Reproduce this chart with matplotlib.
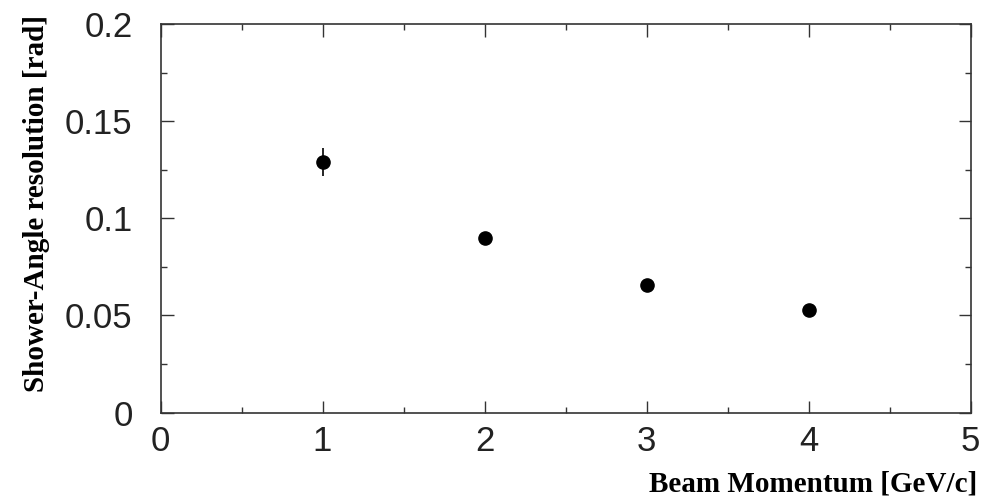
import matplotlib.pyplot as plt
from matplotlib.ticker import MultipleLocator

# beam momentum points and measured shower-angle resolution
momentum = [1, 2, 3, 4]
resolution = [0.1289, 0.0900, 0.0655, 0.0529]
resolution_err = [0.0071, 0.0025, 0.0020, 0.0015]

xtick_vals = [0, 1, 2, 3, 4, 5]
xtick_labels = ['0', '1', '2', '3', '4', '5']
ytick_vals = [0, 0.05, 0.1, 0.15, 0.2]
ytick_labels = ['0', '0.05', '0.1', '0.15', '0.2']

fig = plt.figure(figsize=(9.97, 4.99), dpi=100)
ax = fig.add_axes([0.161, 0.173, 0.8126, 0.779])

ax.errorbar(momentum, resolution, yerr=resolution_err, fmt='o', color='black',
            markersize=9.5, elinewidth=1.2, capsize=0)

ax.set_xlim(0, 5)
ax.set_ylim(0, 0.2)
ax.xaxis.set_minor_locator(MultipleLocator(0.5))
ax.yaxis.set_minor_locator(MultipleLocator(0.025))
ax.set_xticks(xtick_vals)
ax.set_xticklabels(xtick_labels)
ax.set_yticks(ytick_vals)
ax.set_yticklabels(ytick_labels)

ax.tick_params(which='both', direction='in', top=True, right=True, width=1, color='#333333')
ax.tick_params(which='major', length=9)
ax.tick_params(which='minor', length=4.5)
ax.tick_params(axis='y', which='major', pad=20, labelsize=25)
ax.tick_params(axis='x', which='major', pad=9, labelsize=25)
for lab in ax.get_xticklabels() + ax.get_yticklabels():
    lab.set_fontfamily('Liberation Sans')
    lab.set_color('#222222')

for sp in ax.spines.values():
    sp.set_linewidth(1.2)
    sp.set_color('#333333')

ax.set_xlabel('Beam Momentum [GeV/c]', loc='right', fontsize=21, fontweight='bold',
              fontfamily='Liberation Serif')
ax.xaxis.set_label_coords(1.008, -0.148)
ax.set_ylabel('Shower-Angle resolution [rad]', loc='top', fontsize=21, fontweight='bold',
              fontfamily='Liberation Serif')
ax.yaxis.set_label_coords(-0.137, 1.023)

fig.savefig('out.png', dpi=100, facecolor='white')
